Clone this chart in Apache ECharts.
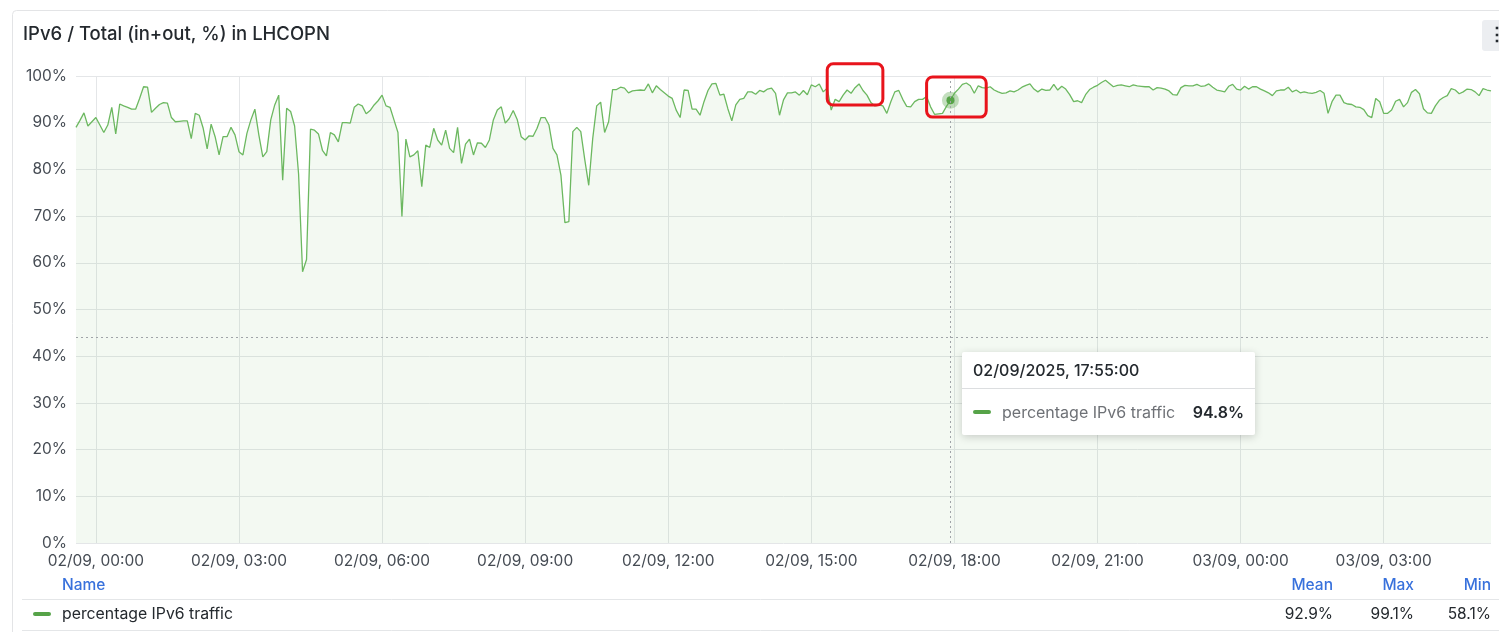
<!DOCTYPE html>
<html>
<head>
<meta charset="utf-8">
<script src="https://cdn.jsdelivr.net/npm/echarts@6/dist/echarts.min.js"></script>
<style>
html,body{margin:0;padding:0;background:#fff;}
#chart{width:1499px;height:632px;}
</style>
</head>
<body>
<div id="chart"></div>
<script>
const panelTitle = 'IPv6 / Total (in+out, %) in LHCOPN';
const seriesName = 'percentage IPv6 traffic';
// first sample: 01/09 23:35 (minutes relative to 02/09 00:00), 5-minute steps
const startMinutes = -25;
const stepMinutes = 5;
const ipv6Percent = [
  89.0, 90.5, 92.1, 89.3, 90.2, 91.1, 89.5, 87.9, 89.5, 93.3,
  87.6, 94.0, 93.6, 93.3, 92.9, 92.9, 95.2, 97.7, 97.6, 92.2,
  93.1, 93.9, 94.3, 94.2, 91.1, 90.2, 90.3, 90.4, 90.4, 86.6,
  92.0, 91.6, 88.8, 84.4, 89.7, 87.0, 83.1, 87.0, 87.0, 89.0,
  87.4, 83.8, 83.1, 87.7, 90.6, 92.9, 87.4, 82.7, 83.8, 90.6,
  93.8, 95.9, 77.7, 93.1, 92.4, 89.3, 79.0, 58.1, 60.7, 88.6,
  88.4, 87.6, 84.1, 82.9, 87.9, 87.4, 85.9, 90.0, 90.0, 89.9,
  93.3, 94.0, 93.6, 91.9, 92.6, 93.8, 94.7, 95.9, 93.6, 93.3,
  90.6, 87.9, 69.9, 86.5, 82.7, 83.1, 84.0, 76.3, 85.2, 84.7,
  88.8, 86.3, 85.2, 88.4, 84.5, 83.6, 89.0, 81.3, 85.4, 86.5,
  83.1, 85.7, 85.6, 84.7, 86.3, 90.6, 92.7, 93.4, 89.9, 90.9,
  92.6, 90.7, 87.0, 86.3, 87.2, 87.1, 88.8, 91.1, 91.1, 89.5,
  84.5, 83.1, 78.8, 68.6, 68.8, 88.1, 89.0, 88.1, 82.1, 76.6,
  86.6, 93.6, 94.4, 87.9, 90.2, 97.1, 97.1, 97.6, 97.4, 96.4,
  96.8, 96.9, 97.0, 96.9, 98.3, 96.4, 97.9, 97.1, 96.4, 95.7,
  95.2, 92.7, 91.1, 97.0, 96.9, 92.9, 92.9, 91.6, 94.5, 96.9,
  98.3, 98.4, 95.9, 96.1, 93.0, 90.4, 93.8, 95.0, 95.2, 96.6,
  96.6, 96.1, 96.9, 96.6, 97.2, 97.4, 96.3, 91.6, 94.9, 96.4,
  96.4, 96.6, 95.9, 96.9, 96.0, 98.1, 97.7, 98.3, 96.6, 97.4,
  92.7, 95.0, 94.5, 95.9, 97.0, 96.3, 97.5, 98.3, 96.9, 95.9,
  94.3, 93.6, 93.8, 93.6, 92.0, 94.5, 96.6, 96.9, 95.0, 93.5,
  93.4, 94.5, 95.0, 95.0, 95.6, 93.4, 91.8, 91.9, 92.0, 93.5,
  94.8, 96.3, 97.2, 98.2, 98.5, 97.9, 96.3, 97.9, 97.5, 97.4,
  97.7, 97.0, 96.6, 96.3, 96.4, 96.8, 96.6, 97.0, 97.6, 98.0,
  98.3, 97.2, 96.6, 97.2, 96.9, 97.0, 98.2, 97.0, 97.8, 97.2,
  96.0, 94.5, 94.7, 94.3, 96.0, 97.1, 97.6, 98.0, 98.6, 99.1,
  98.4, 97.7, 98.0, 98.1, 97.9, 97.7, 98.1, 97.9, 97.8, 97.7,
  97.7, 97.0, 97.5, 97.4, 97.2, 96.8, 96.0, 95.9, 97.5, 98.0,
  97.9, 97.9, 98.2, 97.8, 97.9, 98.3, 97.6, 97.0, 96.8, 96.6,
  97.8, 98.2, 97.2, 97.0, 97.8, 97.2, 97.7, 97.7, 97.2, 96.8,
  96.4, 95.8, 96.8, 97.0, 97.0, 97.6, 96.6, 97.0, 96.4, 96.6,
  96.4, 96.3, 96.5, 96.9, 96.3, 92.0, 94.5, 95.9, 95.9, 94.3,
  94.0, 93.9, 93.4, 93.3, 92.8, 91.5, 91.1, 95.2, 94.5, 92.0,
  92.0, 92.7, 94.6, 95.0, 93.4, 94.3, 96.5, 97.1, 96.2, 93.0,
  92.1, 92.0, 93.6, 94.8, 95.4, 95.8, 97.3, 97.0, 96.2, 96.6,
  97.2, 97.1, 96.6, 95.8, 97.3, 97.0, 96.8
];
const statHeaders = ['Mean', 'Max', 'Min'];
const statValues = ['92.9%', '99.1%', '58.1%'];
const yMin = 0, yMax = 100, yInterval = 10;
const hoveredIndex = 220; // 02/09 17:55
// highlight boxes (annotation) in data space: [fromIndex, toIndex, topValue, bottomValue]
const highlightBoxes = [
  [188.6, 203.4, 102.6, 93.8],
  [213.8, 228.9, 99.8, 91.2]
];

const pad = n => String(n).padStart(2, '0');
function timeParts(i) {
  const m = startMinutes + i * stepMinutes;
  const day = 2 + Math.floor(m / 1440);
  const mm = ((m % 1440) + 1440) % 1440;
  return { day, h: Math.floor(mm / 60), mi: mm % 60 };
}
const categories = ipv6Percent.map((_, i) => {
  const t = timeParts(i);
  return pad(t.day) + '/09, ' + pad(t.h) + ':' + pad(t.mi);
});
const isMajor = (idx) => { const t = timeParts(idx); return t.mi === 0 && t.h % 3 === 0; };

const FONT = 'Inter, "Noto Sans", sans-serif';
const lineColor = '#63a858';
const dotColor = '#56a348';
const gridColor = '#e4e6e8';
const labelColor = '#464c54';
const LBL = 15.5;

const chart = echarts.init(document.getElementById('chart'), null, { renderer: 'canvas' });

const staticGraphics = [
  { id: 'panel', type: 'rect', shape: { x: 12.5, y: 10.5, width: 1500, height: 650, r: 4 }, style: { fill: 'none', stroke: '#e3e4e6', lineWidth: 1 }, silent: true, z: -10 },
  { id: 'title', type: 'text', x: 23, y: 34, style: { text: panelTitle, font: '500 18.5px ' + FONT, fill: '#24292e', verticalAlign: 'middle', align: 'left' } },
  { id: 'menuBg', type: 'rect', shape: { x: 1482, y: 20, width: 24, height: 31, r: 3 }, style: { fill: '#eceef1' } },
  { id: 'menuTxt', type: 'text', x: 1497, y: 35, style: { text: '⋮', font: 'bold 18px ' + FONT, fill: '#24292e', align: 'center', verticalAlign: 'middle' } },
  { id: 'lgName', type: 'text', x: 62, y: 585, style: { text: 'Name', font: '500 ' + LBL + 'px ' + FONT, fill: '#3871dc', verticalAlign: 'middle' } },
  { id: 'lgH0', type: 'text', x: 1333, y: 585, style: { text: statHeaders[0], font: '500 ' + LBL + 'px ' + FONT, fill: '#3871dc', align: 'right', verticalAlign: 'middle' } },
  { id: 'lgH1', type: 'text', x: 1414, y: 585, style: { text: statHeaders[1], font: '500 ' + LBL + 'px ' + FONT, fill: '#3871dc', align: 'right', verticalAlign: 'middle' } },
  { id: 'lgH2', type: 'text', x: 1491, y: 585, style: { text: statHeaders[2], font: '500 ' + LBL + 'px ' + FONT, fill: '#3871dc', align: 'right', verticalAlign: 'middle' } },
  { id: 'sep1', type: 'line', shape: { x1: 22, y1: 599.5, x2: 1499, y2: 599.5 }, style: { stroke: '#e4e6e8', lineWidth: 1 } },
  { id: 'sep2', type: 'line', shape: { x1: 22, y1: 630.5, x2: 1499, y2: 630.5 }, style: { stroke: '#e4e6e8', lineWidth: 1 } },
  { id: 'lgDash', type: 'rect', shape: { x: 33, y: 612, width: 18, height: 4, r: 2 }, style: { fill: dotColor } },
  { id: 'lgSeries', type: 'text', x: 62, y: 614, style: { text: seriesName, font: '15.8px ' + FONT, fill: '#24292e', verticalAlign: 'middle' } },
  { id: 'lgV0', type: 'text', x: 1333, y: 614, style: { text: statValues[0], font: LBL + 'px ' + FONT, fill: '#24292e', align: 'right', verticalAlign: 'middle' } },
  { id: 'lgV1', type: 'text', x: 1414, y: 614, style: { text: statValues[1], font: LBL + 'px ' + FONT, fill: '#24292e', align: 'right', verticalAlign: 'middle' } },
  { id: 'lgV2', type: 'text', x: 1491, y: 614, style: { text: statValues[2], font: LBL + 'px ' + FONT, fill: '#24292e', align: 'right', verticalAlign: 'middle' } }
];

const option = {
  animation: false,
  backgroundColor: '#ffffff',
  textStyle: { fontFamily: FONT },
  grid: { left: 76, right: 8, top: 76, bottom: 89, containLabel: false },
  xAxis: {
    type: 'category',
    data: categories,
    boundaryGap: false,
    axisLine: { show: false },
    axisTick: { show: false },
    axisLabel: { interval: isMajor, color: labelColor, fontSize: LBL, fontFamily: FONT, margin: 10 },
    splitLine: { show: true, interval: isMajor, lineStyle: { color: gridColor, width: 1 } }
  },
  yAxis: {
    type: 'value',
    min: yMin, max: yMax, interval: yInterval,
    axisLine: { show: false },
    axisTick: { show: false },
    axisLabel: { formatter: '{value}%', color: labelColor, fontSize: LBL, fontFamily: FONT, margin: 9 },
    splitLine: { lineStyle: { color: gridColor, width: 1 } }
  },
  tooltip: {
    trigger: 'axis',
    alwaysShowContent: true,
    transitionDuration: 0,
    padding: 0,
    borderWidth: 0,
    backgroundColor: '#ffffff',
    extraCssText: 'box-shadow:0 2px 8px rgba(0,0,0,0.18);border-radius:2px;',
    position: function (pt) { return [pt[0] + 12, pt[1] + 15]; },
    axisPointer: {
      type: 'cross',
      animation: false,
      label: { show: false },
      lineStyle: { color: '#a0a4a8', type: [2, 3], width: 1 },
      crossStyle: { color: '#a0a4a8', type: [2, 3], width: 1 }
    },
    formatter: function (params) {
      const p = params[0];
      const t = timeParts(p.dataIndex);
      const head = pad(t.day) + '/09/2025, ' + pad(t.h) + ':' + pad(t.mi) + ':00';
      const val = Number(p.value).toFixed(1) + '%';
      return '<div style="width:293px;font-family:Inter,sans-serif;font-size:16px;">' +
        '<div style="padding:8px 11px;line-height:20px;color:#24292e;font-weight:500;border-bottom:1px solid #dcdee0;">' + head + '</div>' +
        '<div style="padding:13px 11px;line-height:20px;display:flex;align-items:center;">' +
        '<span style="display:inline-block;width:18px;height:4px;border-radius:2px;background:' + dotColor + ';margin-right:11px;"></span>' +
        '<span style="color:#6e7176;">' + seriesName + '</span>' +
        '<span style="margin-left:auto;font-weight:600;color:#24292e;">' + val + '</span></div></div>';
    }
  },
  series: [{
    type: 'line',
    name: seriesName,
    data: ipv6Percent,
    showSymbol: false,
    symbol: 'circle',
    symbolSize: 8,
    lineStyle: { color: lineColor, width: 1.3 },
    itemStyle: { color: dotColor },
    areaStyle: { color: 'rgba(115,191,105,0.12)' },
    emphasis: {
      scale: false,
      lineStyle: { width: 1.3 },
      areaStyle: { color: 'rgba(115,191,105,0.12)' },
      itemStyle: { color: dotColor, borderColor: 'rgba(86,163,72,0.35)', borderWidth: 9 }
    }
  }],
  graphic: staticGraphics
};

chart.setOption(option);

const boxGraphics = highlightBoxes.map((b, k) => {
  const p1 = chart.convertToPixel({ gridIndex: 0 }, [b[0], b[2]]);
  const p2 = chart.convertToPixel({ gridIndex: 0 }, [b[1], b[3]]);
  return {
    id: 'box' + k, type: 'rect', z: 100,
    shape: { x: p1[0], y: p1[1], width: p2[0] - p1[0], height: p2[1] - p1[1], r: 6 },
    style: { fill: 'none', stroke: '#e8141c', lineWidth: 3 }
  };
});
chart.setOption({ graphic: staticGraphics.concat(boxGraphics) });

const hx = chart.convertToPixel({ gridIndex: 0 }, [hoveredIndex, ipv6Percent[hoveredIndex]])[0];
chart.dispatchAction({ type: 'showTip', x: hx, y: 337 });
</script>
</body>
</html>
